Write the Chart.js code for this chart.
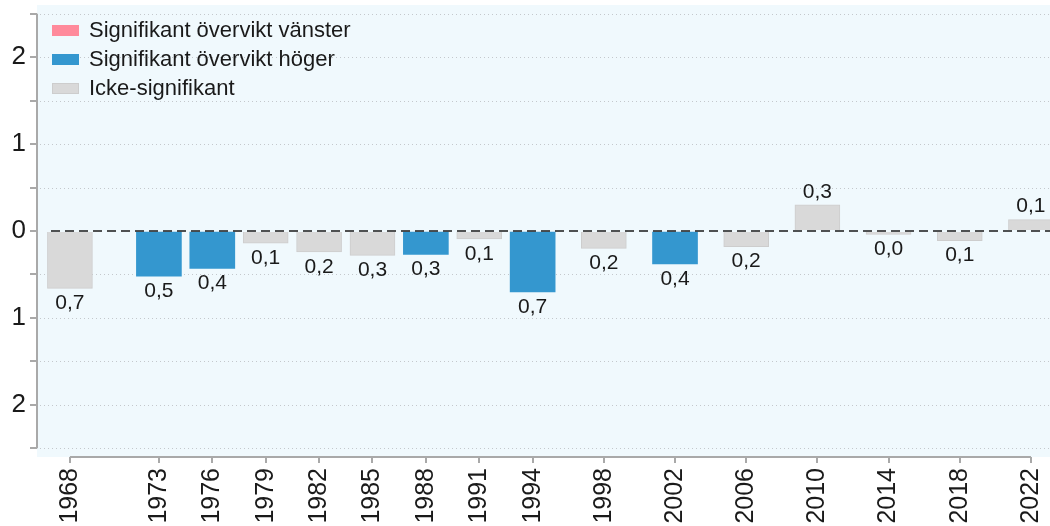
<!DOCTYPE html>
<html>
<head>
<meta charset="utf-8">
<script src="https://cdn.jsdelivr.net/npm/chart.js@4"></script>
<style>
  body { margin: 0; background: #ffffff; }
  #wrap { width: 1050px; height: 526px; position: relative; }
</style>
</head>
<body>
<div id="wrap"><canvas id="chart"></canvas></div>
<script>
// ============================================
// Data
// ============================================

const years = [1968, 1973, 1976, 1979, 1982, 1985, 1988, 1991, 1994, 1998, 2002, 2006, 2010, 2014, 2018, 2022];
const values = [-0.66, -0.52, -0.43, -0.14, -0.24, -0.28, -0.27, -0.09, -0.70, -0.20, -0.38, -0.18, 0.30, -0.04, -0.11, 0.13];
// 'v' = significant left, 'h' = significant right, 'ns' = not significant
const significance = ['ns', 'h', 'h', 'ns', 'ns', 'ns', 'h', 'ns', 'h', 'ns', 'h', 'ns', 'ns', 'ns', 'ns', 'ns'];
const legendLabels = ['Signifikant övervikt vänster', 'Signifikant övervikt höger', 'Icke-signifikant'];
const legendKeys = ['v', 'h', 'ns'];
const yTicks = [-2.5, -2, -1.5, -1, -0.5, 0, 0.5, 1, 1.5, 2, 2.5];

// ============================================
// Styles
// ============================================

const FONT = 'Arial, "Liberation Sans", Helvetica, sans-serif';
const fillColors = { v: '#ff8a9b', h: '#3497cf', ns: '#d9d9d9' };
const edgeColors = { v: '#ff8a9b', h: '#3497cf', ns: '#cdcdcd' };
const AXIS_COLOR = '#a9a9a9';
const PLOT_BG = '#f0f9fd';

const fmt = v => Math.abs(v).toFixed(1).replace('.', ',');

// ============================================
// Custom drawing (background, grid, axes, labels, legend)
// ============================================

const framePlugin = {
  id: 'frame',
  beforeDraw(chart) {
    const { ctx, chartArea: a } = chart;
    ctx.save();
    ctx.fillStyle = PLOT_BG;
    ctx.fillRect(a.left, a.top, a.right - a.left, a.bottom - a.top);
    ctx.restore();
  },
  beforeDatasetsDraw(chart) {
    const { ctx, chartArea: a, scales } = chart;
    const xs = scales.x, ys = scales.y;
    ctx.save();
    // dotted grid lines
    ctx.strokeStyle = '#c4c8cc';
    ctx.lineWidth = 1;
    ctx.setLineDash([1, 3]);
    yTicks.forEach(t => {
      if (t === 0) return;
      const y = Math.round(ys.getPixelForValue(t)) + 0.5;
      ctx.beginPath();
      ctx.moveTo(a.left + 3, y);
      ctx.lineTo(a.right, y);
      ctx.stroke();
    });
    ctx.setLineDash([]);
    // axis lines
    ctx.strokeStyle = AXIS_COLOR;
    ctx.lineWidth = 2;
    ctx.beginPath();
    ctx.moveTo(a.left, ys.getPixelForValue(yTicks[yTicks.length - 1]));
    ctx.lineTo(a.left, ys.getPixelForValue(yTicks[0]));
    ctx.stroke();
    ctx.beginPath();
    ctx.moveTo(xs.getPixelForValue(years[0]), a.bottom);
    ctx.lineTo(xs.getPixelForValue(years[years.length - 1]), a.bottom);
    ctx.stroke();
    ctx.restore();
  },
  afterDatasetsDraw(chart) {
    const { ctx, chartArea: a, scales } = chart;
    const ys = scales.y;
    ctx.save();
    // dashed zero line
    const y0 = ys.getPixelForValue(0);
    ctx.strokeStyle = '#1a1a1a';
    ctx.lineWidth = 1.6;
    ctx.setLineDash([9, 5]);
    ctx.beginPath();
    ctx.moveTo(a.left + 14, y0);
    ctx.lineTo(a.right, y0);
    ctx.stroke();
    ctx.setLineDash([]);

    // value labels
    ctx.fillStyle = '#1a1a1a';
    ctx.font = '21px ' + FONT;
    ctx.textAlign = 'center';
    ctx.textBaseline = 'middle';
    const meta = chart.getDatasetMeta(0);
    meta.data.forEach((el, i) => {
      const v = values[i];
      const y = v < 0 ? el.y + 15 : el.y - 13;
      ctx.fillText(fmt(v), el.x, y);
    });

    // legend
    ctx.font = '22px ' + FONT;
    ctx.textAlign = 'left';
    legendLabels.forEach((label, i) => {
      const cy = a.top + 25 + i * 29;
      const k = legendKeys[i];
      ctx.fillStyle = fillColors[k];
      ctx.fillRect(52, cy - 5, 27, 11);
      if (k === 'ns') {
        ctx.strokeStyle = edgeColors[k];
        ctx.lineWidth = 1;
        ctx.strokeRect(52.5, cy - 4.5, 26, 10);
      }
      ctx.fillStyle = '#1a1a1a';
      ctx.fillText(label, 89, cy + 1);
    });
    ctx.restore();
  }
};

// ============================================
// Chart
// ============================================

const ctx = document.getElementById('chart');
new Chart(ctx, {
  type: 'bar',
  data: {
    datasets: [{
      data: years.map((yr, i) => ({ x: yr, y: values[i] })),
      backgroundColor: significance.map(s => fillColors[s]),
      borderColor: significance.map(s => edgeColors[s]),
      borderWidth: significance.map(s => (s === 'ns' ? 1 : 0)),
      barThickness: 45
    }]
  },
  options: {
    responsive: true,
    maintainAspectRatio: false,
    animation: false,
    layout: { padding: { top: 5, right: 0, left: 0, bottom: 0 } },
    plugins: { legend: { display: false }, tooltip: { enabled: false } },
    scales: {
      x: {
        type: 'linear',
        offset: false,
        min: 1966.15,
        max: 2023.07,
        afterBuildTicks: s => { s.ticks = years.map(v => ({ value: v })); },
        afterFit: s => {
          s.height = 69;
          s.paddingLeft = 0;
          s.paddingRight = 0;
        },
        border: { display: false },
        grid: { offset: false, drawOnChartArea: false, drawTicks: true, tickLength: 6, color: AXIS_COLOR, lineWidth: 2 },
        ticks: {
          autoSkip: false,
          minRotation: 90,
          maxRotation: 90,
          padding: 5,
          color: '#1a1a1a',
          font: { family: FONT, size: 25 },
          callback: v => String(v)
        }
      },
      y: {
        min: -2.6,
        max: 2.6,
        afterBuildTicks: s => { s.ticks = yTicks.map(v => ({ value: v })); },
        afterFit: s => {
          s.width = 37;
          s.paddingTop = 0;
          s.paddingBottom = 0;
        },
        border: { display: false },
        grid: { drawOnChartArea: false, drawTicks: true, tickLength: 7, color: AXIS_COLOR, lineWidth: 2 },
        ticks: {
          autoSkip: false,
          padding: 4,
          color: '#1a1a1a',
          font: { family: FONT, size: 26 },
          callback: v => (Number.isInteger(v) ? String(Math.abs(v)) : '')
        }
      }
    }
  },
  plugins: [framePlugin]
});
</script>
</body>
</html>
